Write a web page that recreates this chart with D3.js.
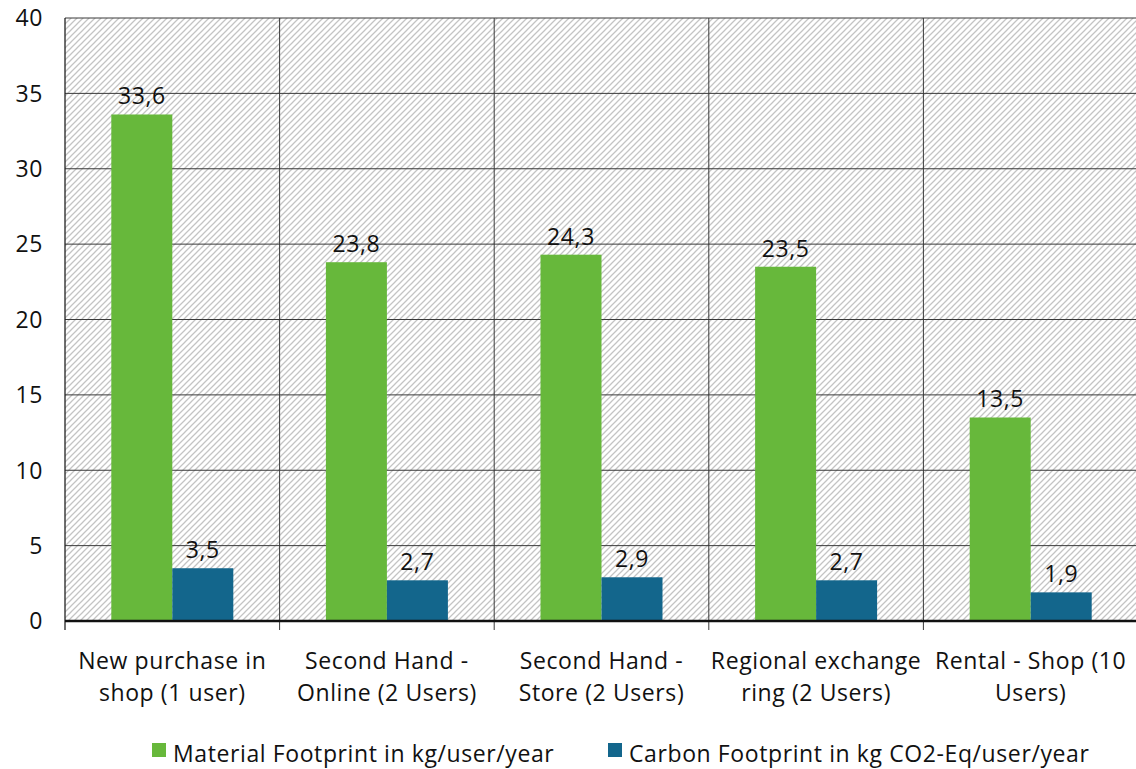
<!DOCTYPE html>
<html>
<head>
<meta charset="utf-8">
<script src="https://cdn.jsdelivr.net/npm/d3@7/dist/d3.min.js"></script>
<style>
  body { margin: 0; background: #fff; }
  svg { display: block; font-family: "Open Sans", sans-serif; }
  svg text { letter-spacing: 0.6px; }
</style>
</head>
<body>
<div id="chart"></div>
<script>
// Chart data
const categories = [
  ["New purchase in", "shop (1 user)"],
  ["Second Hand -", "Online (2 Users)"],
  ["Second Hand -", "Store (2 Users)"],
  ["Regional exchange", "ring (2 Users)"],
  ["Rental - Shop (10", "Users)"]
];
const materialValues = [33.6, 23.8, 24.3, 23.5, 13.5];
const carbonValues = [3.5, 2.7, 2.9, 2.7, 1.9];
const seriesNames = ["Material Footprint in kg/user/year", "Carbon Footprint in kg CO2-Eq/user/year"];
const seriesColors = ["#67b83b", "#13668c"];
const yTicks = [0, 5, 10, 15, 20, 25, 30, 35, 40];

const W = 1136, H = 769;
const margin = {top: 18, right: -2, bottom: 148, left: 65};
const width = W - margin.left - margin.right,
      height = H - margin.top - margin.bottom;

const svg = d3.select("#chart").append("svg")
  .attr("width", W).attr("height", H);

// hatch pattern for the plot background
const defs = svg.append("defs");
const pat = defs.append("pattern")
  .attr("id", "hatch")
  .attr("patternUnits", "userSpaceOnUse")
  .attr("width", 6).attr("height", 6);
pat.append("path")
  .attr("d", "M-1,1 l2,-2 M0,6 l6,-6 M5,7 l2,-2")
  .attr("stroke", "#c4c4c4")
  .attr("stroke-width", 1.3);

const inner = svg.append("g")
  .attr("transform", "translate(" + margin.left + "," + margin.top + ")");

const x = d3.scaleBand()
  .domain(d3.range(categories.length))
  .range([0, width]);

const y = d3.scaleLinear()
  .domain([0, 40])
  .range([height, 0]);

inner.append("rect")
  .attr("width", width).attr("height", height)
  .attr("fill", "url(#hatch)");

// horizontal gridlines
inner.selectAll(".hgrid")
  .data(yTicks.filter(d => d > 0))
  .enter().append("line")
  .attr("x1", 0).attr("x2", width)
  .attr("y1", d => y(d)).attr("y2", d => y(d))
  .attr("stroke", "#3a3a3a").attr("stroke-width", 1);

// vertical gridlines at category boundaries
inner.selectAll(".vgrid")
  .data(d3.range(1, categories.length + 1))
  .enter().append("line")
  .attr("x1", d => x.step() * d).attr("x2", d => x.step() * d)
  .attr("y1", 0).attr("y2", height + 9)
  .attr("stroke", "#3a3a3a").attr("stroke-width", 1);

// y axis
inner.append("line")
  .attr("x1", 0).attr("x2", 0).attr("y1", 0).attr("y2", height + 9)
  .attr("stroke", "#222").attr("stroke-width", 1.3);

inner.selectAll(".ylab")
  .data(yTicks)
  .enter().append("text")
  .attr("x", -22).attr("y", d => y(d))
  .attr("dy", "0.36em")
  .attr("text-anchor", "end")
  .attr("font-size", 23)
  .attr("fill", "#111")
  .text(d => d);

// bars
const bw = 61;
const groups = [materialValues, carbonValues];
groups.forEach((vals, s) => {
  inner.selectAll(".bar" + s)
    .data(vals)
    .enter().append("rect")
    .attr("x", (d, i) => x(i) + x.bandwidth() / 2 - bw + s * bw)
    .attr("y", d => y(d))
    .attr("width", bw)
    .attr("height", d => height - y(d))
    .attr("fill", seriesColors[s]);

  inner.selectAll(".val" + s)
    .data(vals)
    .enter().append("text")
    .attr("x", (d, i) => x(i) + x.bandwidth() / 2 - bw / 2 + s * bw)
    .attr("y", d => y(d) - 10)
    .attr("text-anchor", "middle")
    .attr("font-size", 23)
    .attr("fill", "#111")
    .text(d => String(d.toFixed(1)).replace(".", ","));
});

// x axis line
inner.append("line")
  .attr("x1", 0).attr("x2", width)
  .attr("y1", height).attr("y2", height)
  .attr("stroke", "#111").attr("stroke-width", 2.5);

// category labels
categories.forEach((lines, i) => {
  lines.forEach((t, j) => {
    inner.append("text")
      .attr("x", x(i) + x.bandwidth() / 2)
      .attr("y", height + 48 + j * 32)
      .attr("text-anchor", "middle")
      .attr("font-size", 23)
      .attr("fill", "#111")
      .text(t);
  });
});

// legend
const legendX = [152, 608];
seriesNames.forEach((name, s) => {
  svg.append("rect")
    .attr("x", legendX[s]).attr("y", 743)
    .attr("width", 14).attr("height", 14)
    .attr("fill", seriesColors[s]);
  svg.append("text")
    .attr("x", legendX[s] + 21).attr("y", 762)
    .attr("font-size", 23)
    .attr("fill", "#111")
    .text(name);
});
</script>
</body>
</html>
